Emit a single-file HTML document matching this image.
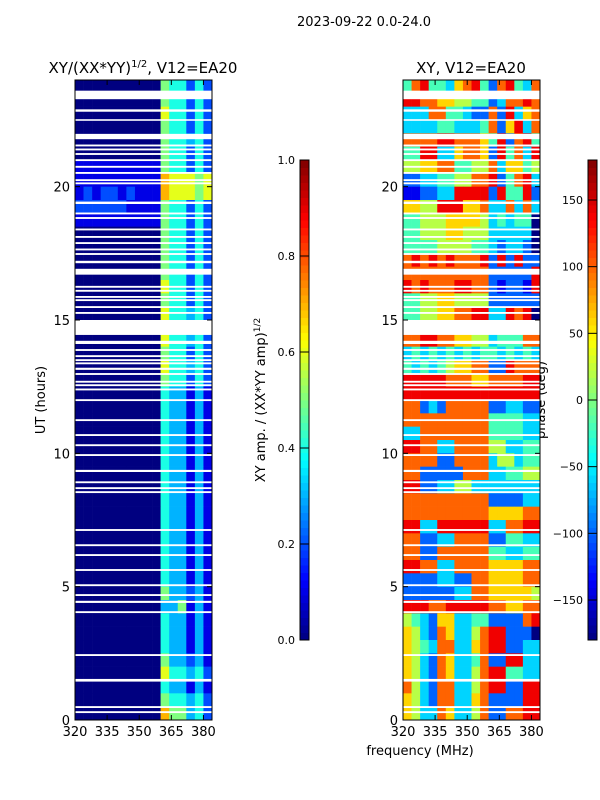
<!DOCTYPE html>
<html><head><meta charset="utf-8">
<style>
body{margin:0;background:#fff;}
svg{display:block;font-family:"DejaVu Sans","Liberation Sans",sans-serif;}
</style></head>
<body>
<svg id="fig" width="600" height="800" viewBox="0 0 600 800" xmlns="http://www.w3.org/2000/svg">
<rect x="0" y="0" width="600" height="800" fill="#fff"/>
<text x="364" y="26" font-size="13" text-anchor="middle">2023-09-22 0.0-24.0</text>
<text x="143" y="73" font-size="15" text-anchor="middle">XY/(XX*YY)<tspan font-size="10" dy="-6">1/2</tspan><tspan dy="6">, V12=EA20</tspan></text>
<text x="471" y="73" font-size="15" text-anchor="middle">XY, V12=EA20</text>
<text x="45" y="400" font-size="13" text-anchor="middle" transform="rotate(-90 45 400)">UT (hours)</text>
<text x="420" y="755" font-size="13" text-anchor="middle">frequency (MHz)</text>
<text x="265" y="400" font-size="13" text-anchor="middle" transform="rotate(-90 265 400)">XY amp. / (XX*YY amp)<tspan font-size="9" dy="-5">1/2</tspan></text>
<text x="545" y="400" font-size="13" text-anchor="middle" transform="rotate(-90 545 400)">phase (deg)</text>
<g id="g"></g>
</svg>
<script>
// ---- data ----
const freqRange = [320, 384];
const hourRange = [0, 24];
const xTicks = [320, 335, 350, 365, 380];
const yTicks = [0, 5, 10, 15, 20];
const ampTicks = [0.0, 0.2, 0.4, 0.6, 0.8, 1.0];
const phaseTicks = [-150, -100, -50, 0, 50, 100, 150];
// rows from top (23.5-24h) to bottom (0-0.5h); 16 freq bins of 4 MHz; digit = amp*10
const ampRows = [
"0000000000544242","0000000000544242","0000000000644242","0000000000544242",
"0000000000544342","0000000000544242","1111111111544242","1111111111766656",
"1212212111766656","2222221111544242","1111111111544242","0000000000544242",
"0000000000544242","0000000000544242","0000000000544242","0000000000644242",
"0000000000544242","0000000000644342","0000000000544242","0000000000644342",
"0000000000544242","0000000000644342","0000000000544242","0000000000433131",
"0000000000433131","0000000000433131","0000000000433131","0000000000433131",
"0000000000433131","0000000000433131","0000000000433131","0000000000433131",
"0000000000433131","0000000000433131","0000000000433131","0000000000433131",
"0000000000433131","0000000000433131","0000000000533231","0000000000335131",
"0000000000433131","0000000000433131","0000000000433131","0000000000533231",
"0000000000644342","0000000000433131","0000000000544342","0000000000755342"
];
// digit 0..9 maps to phase -180..180
const phaseRows = [
"4784436784278437","8877665544237787","3337744322728367","3333443334726837",
"7777887776482784","4488336776284738","5566774455736645","2233445577824783",
"1122338888284482","6655888667337373","4455566665343440","4455566555333330",
"4444555544323320","7878787778282822","7777777777222228","8787778877212218",
"4455665555222222","4455667788338780","7777777777777777","7788776655344477",
"3434343434434343","4343456677228777","8888877766777788","8888888888888888",
"7723277777223322","7777777777444433","3377777777444433","8877337777553344",
"7777227777355344","7722222777334455","8822335533333333","7777777777222233",
"7777777777666677","8833888888337788","7722337777224433","7722777777443344",
"8877337777666677","2222332277666677","2222223377666665","8887788888776677",
"5432663344222278","6532763357882220","6543773367882233","6532763347228833",
"6532763357884433","7532773357882288","6532773367222288","6533763357227788"
];
// flagged (white) time ranges in hours [start, end]
const gaps = [
[23.28,23.60],[22.81,22.90],[22.47,22.53],[21.78,21.98],[21.51,21.58],[21.36,21.43],[21.19,21.26],
[20.96,21.03],[20.71,20.78],[20.48,20.55],[20.21,20.28],[20.09,20.16],[19.35,19.44],[18.96,19.03],
[18.79,18.86],[18.36,18.43],[18.08,18.15],[17.85,17.92],[17.61,17.68],[17.44,17.51],[17.13,17.22],
[16.70,16.92],[16.21,16.28],[16.06,16.13],[15.83,15.90],[15.71,15.78],[15.45,15.52],[15.23,15.30],
[14.44,15.00],[14.10,14.22],[13.84,13.91],[13.61,13.68],[13.46,13.53],[13.34,13.41],[13.13,13.21],
[12.94,13.01],[12.65,12.72],[12.52,12.59],[12.36,12.43],[11.96,12.03],[11.21,11.28],[10.65,10.72],
[10.27,10.34],[9.90,9.97],[9.30,9.38],[8.88,8.95],[8.66,8.73],[8.51,8.58],[7.09,7.16],[6.52,6.59],
[6.15,6.22],[5.59,5.66],[5.02,5.09],[4.65,4.72],[4.39,4.47],[4.01,4.08],[2.40,2.47],[1.44,1.54],
[0.45,0.52],[0.26,0.33]
];
// ---- layout ----
const panels = [
 {name:'amp', x0:75, x1:212, rows:ampRows, val:c=>(+c)/10},
 {name:'phase', x0:403, x1:540, rows:phaseRows, val:c=>(+c)/9}
];
const Y0 = 80, Y1 = 720;
const NS = 'http://www.w3.org/2000/svg';
const g = document.getElementById('g');
function jet(v){v=Math.max(0,Math.min(1,v));
 const r=Math.max(0,Math.min(1,1.5-Math.abs(4*v-3)));
 const gg=Math.max(0,Math.min(1,1.5-Math.abs(4*v-2)));
 const b=Math.max(0,Math.min(1,1.5-Math.abs(4*v-1)));
 return `rgb(${Math.round(r*255)},${Math.round(gg*255)},${Math.round(b*255)})`;}
function mk(tag, attrs, parent){const e=document.createElementNS(NS,tag);for(const k in attrs)e.setAttribute(k,attrs[k]);(parent||g).appendChild(e);return e;}
function yScale(h){return Y1-(h-hourRange[0])/(hourRange[1]-hourRange[0])*(Y1-Y0);}
panels.forEach(p=>{
 const xs=f=>p.x0+(f-freqRange[0])/(freqRange[1]-freqRange[0])*(p.x1-p.x0);
 const grp=mk('g',{});
 
 
 const nr=p.rows.length;
 p.rows.forEach((row,i)=>{
  const hTop=hourRange[1]-i*(hourRange[1]-hourRange[0])/nr;
  const hBot=hTop-(hourRange[1]-hourRange[0])/nr;
  const nc=row.length, df=(freqRange[1]-freqRange[0])/nc;
  for(let j=0;j<nc;j++){
   const f0=freqRange[0]+j*df;
   const r=mk('rect',{x:xs(f0),y:yScale(hTop),width:xs(f0+df)-xs(f0)+0.3,height:yScale(hBot)-yScale(hTop)+0.3,fill:jet(p.val(row[j]))},grp);
   
   
  }
 });
 gaps.forEach(gp=>{
  const r=mk('rect',{x:p.x0,y:yScale(gp[1]),width:p.x1-p.x0,height:yScale(gp[0])-yScale(gp[1]),fill:'#fff'},grp);
  
  
 });
 const fr=mk('rect',{x:p.x0,y:Y0,width:p.x1-p.x0,height:Y1-Y0,fill:'none',stroke:'#000','stroke-width':1});
 
 
 xTicks.forEach(t=>{const x=xs(t);
  mk('line',{x1:x,y1:Y1,x2:x,y2:Y1-5,stroke:'#000'});mk('line',{x1:x,y1:Y0,x2:x,y2:Y0+5,stroke:'#000'});
  const tx=mk('text',{x:x,y:Y1+16,'font-size':13,'text-anchor':'middle'});tx.textContent=t;
  
  
 });
 yTicks.forEach(t=>{const y=yScale(t);
  mk('line',{x1:p.x0,y1:y,x2:p.x0+5,y2:y,stroke:'#000'});mk('line',{x1:p.x1,y1:y,x2:p.x1-5,y2:y,stroke:'#000'});
  const tx=mk('text',{x:p.x0-5,y:y+5,'font-size':13,'text-anchor':'end'});tx.textContent=t;
  
  
 });
});
// colorbars
const bars=[{name:'amp',x:300,ticks:ampTicks,lo:0,hi:1,fmt:v=>v.toFixed(1)},
            {name:'phase',x:588,ticks:phaseTicks,lo:-180,hi:180,fmt:v=>v<0?'\u2212'+(-v):''+v}];
const CB0=160, CB1=640, CW=9;
bars.forEach(b=>{
 const n=64;
 for(let i=0;i<n;i++){
  const r=mk('rect',{x:b.x,y:CB1-(i+1)*(CB1-CB0)/n,width:CW,height:(CB1-CB0)/n+0.5,fill:jet((i+0.5)/n)});
  
  
 }
 const fr=mk('rect',{x:b.x,y:CB0,width:CW,height:CB1-CB0,fill:'none',stroke:'#000'});
 
 
 b.ticks.forEach(t=>{const y=CB1-(t-b.lo)/(b.hi-b.lo)*(CB1-CB0);
  mk('line',{x1:b.x,y1:y,x2:b.x+CW,y2:y,stroke:'#000'});
  const tx=mk('text',{x:b.x-5,y:y+4,'font-size':11,'text-anchor':'end'});tx.textContent=b.fmt(t);
  
  
 });
});
</script>
</body></html>
